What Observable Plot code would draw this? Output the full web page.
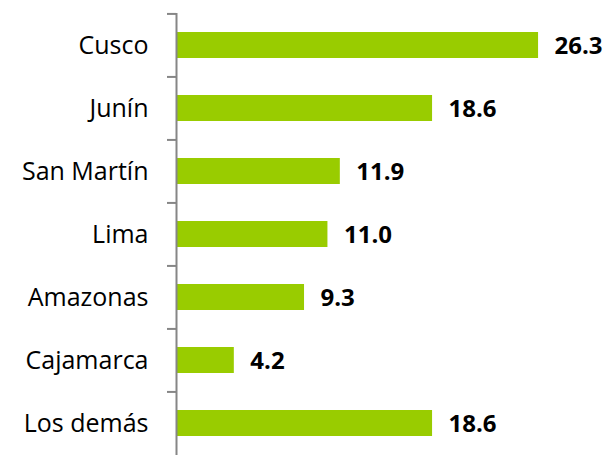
<!DOCTYPE html>
<html>
<head>
<meta charset="utf-8">
<script src="https://cdn.jsdelivr.net/npm/d3@7"></script>
<script src="https://cdn.jsdelivr.net/npm/@observablehq/plot@0.6"></script>
<style>
  html, body { margin: 0; padding: 0; background: #fff; }
  #chart { width: 610px; height: 455px; }
</style>
</head>
<body>
<div id="chart"></div>
<script>
const categories = ["Cusco", "Junín", "San Martín", "Lima", "Amazonas", "Cajamarca", "Los demás"];
const values = [26.3, 18.6, 11.9, 11.0, 9.3, 4.2, 18.6];

const data = categories.map((c, i) => ({region: c, value: values[i]}));

const H = 455, mTop = 13, mBottom = 0;
const step = (H - mTop - mBottom) / categories.length;

const chart = Plot.plot({
  width: 610,
  height: H,
  marginLeft: 176,
  marginRight: 21,
  marginTop: mTop,
  marginBottom: mBottom,
  style: {fontFamily: "'Open Sans', sans-serif", background: "#fff"},
  x: {domain: [0, 30], axis: null},
  y: {domain: categories, paddingInner: 0.59, paddingOuter: 0.295, label: null},
  marks: [
    Plot.barX(data, {x: "value", y: "region", fill: "#99cc00", insetLeft: 1}),
    Plot.axisY({tickSize: 0, tickPadding: 28, fontSize: 25, fill: "#000", label: null}),
    Plot.axisY({tickSize: 9, text: null, dy: -step / 2, stroke: "#868686", strokeWidth: 2, label: null}),
    Plot.ruleX([0], {stroke: "#868686", strokeWidth: 2}),
    Plot.text(data, {x: "value", y: "region", text: d => d.value.toFixed(1), textAnchor: "start", dx: 16, dy: 1, fontSize: 24, fontWeight: "bold", fill: "#000"})
  ]
});
document.getElementById("chart").appendChild(chart);
</script>
</body>
</html>
